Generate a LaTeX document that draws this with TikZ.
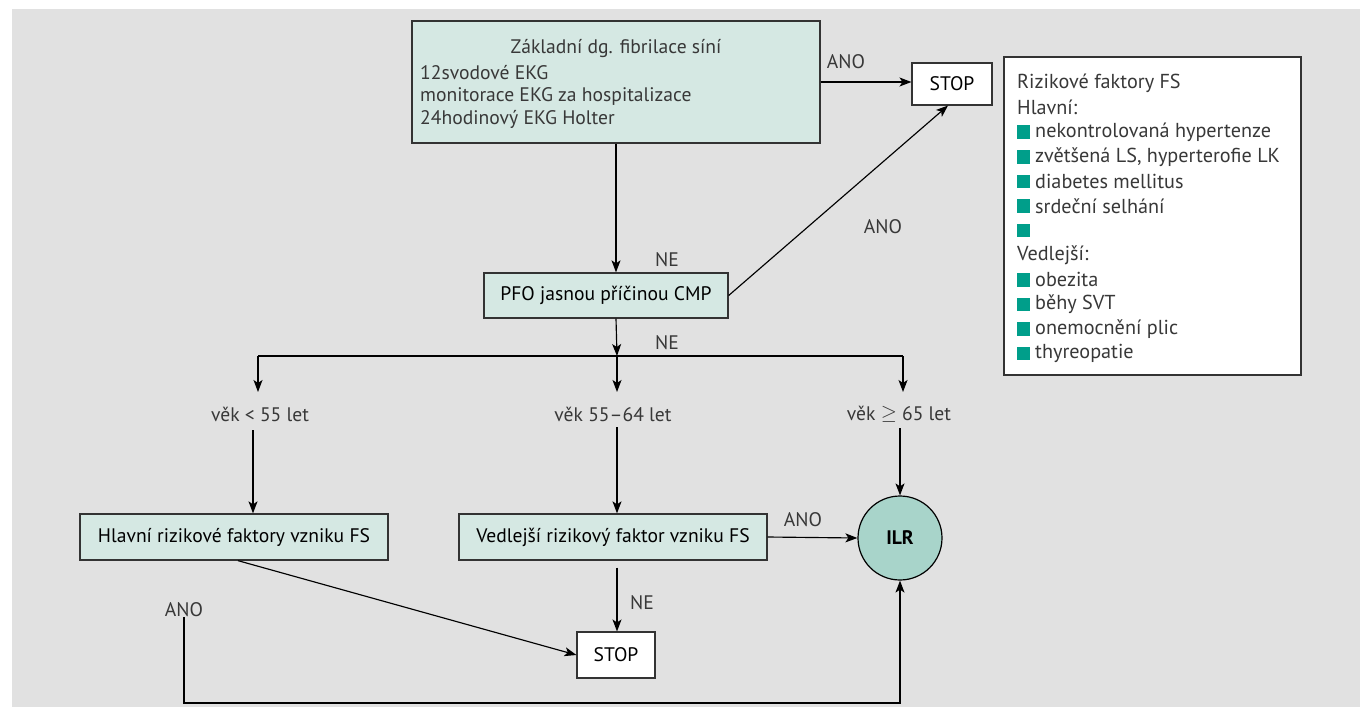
\documentclass[tikz,border=0pt]{standalone}
\usepackage{fontspec}
\setmainfont{PT Sans}
\usetikzlibrary{arrows.meta}
\definecolor{bg}{HTML}{E1E1E1}
\definecolor{boxfill}{HTML}{D5E8E3}
\definecolor{ilrfill}{HTML}{A8D4CA}
\definecolor{sq}{HTML}{009E8A}
\definecolor{txt}{HTML}{383838}
\definecolor{edge}{HTML}{333333}
\tikzset{
  box/.style={draw=edge, line width=1.3pt, fill=boxfill, rectangle, inner sep=0pt},
  stopbox/.style={draw=edge, line width=1.1pt, fill=white, rectangle, inner sep=0pt},
  lbl/.style={inner sep=0pt, text=txt},
  leglbl/.style={inner sep=0pt, text=txt, anchor=west, font=\fontsize{20.2}{23}\selectfont},
  arr/.style={-{Stealth[length=12pt,width=9pt,inset=3pt]}, line width=1.15pt, black},
  conn/.style={line width=1.15pt, black},
  bullet/.style={fill=sq, minimum size=13.5pt, inner sep=0pt, rectangle},
}
\begin{document}
\begin{tikzpicture}[x=1pt,y=-1pt,font=\fontsize{19.6}{23}\selectfont]
\useasboundingbox (0,0) rectangle (1360,707);
\fill[bg] (12,9) rectangle (1360,707);

% top box
\node[box, minimum width=408pt, minimum height=122pt] (top) at (616,82) {};
\node[lbl] (t1) at (616,49) {Základní dg. fibrilace síní};
\node[lbl, anchor=west] (t2) at (420,73) {12svodové EKG};
\node[lbl, anchor=west] (t3) at (420,96) {monitorace EKG za hospitalizace};
\node[lbl, anchor=west] (t4) at (420,119) {24hodinový EKG Holter};

% STOP 1
\node[stopbox, minimum width=80pt, minimum height=42pt] (stop1) at (952,84) {STOP};
\node[lbl] (ano1) at (846,62) {ANO};

% legend
\node[draw=edge, line width=1.3pt, fill=white, minimum width=297pt, minimum height=318pt, inner sep=0pt] (leg) at (1152.5,216) {};
\node[leglbl] (l0) at (1017,83) {Rizikové faktory FS};
\node[leglbl] (l1) at (1017,107.6) {Hlavní:};
\node[bullet] (b2) at (1023.5,132.2) {};
\node[leglbl] (l2) at (1035,132.2) {nekontrolovaná hypertenze};
\node[bullet] (b3) at (1023.5,156.8) {};
\node[leglbl] (l3) at (1035,156.8) {zvětšená LS, hyperterofie LK};
\node[bullet] (b4) at (1023.5,181.4) {};
\node[leglbl] (l4) at (1035,181.4) {diabetes mellitus};
\node[bullet] (b5) at (1023.5,206) {};
\node[leglbl] (l5) at (1035,206) {srdeční selhání};
\node[bullet] (b6) at (1023.5,230.6) {};
\node[leglbl] (l7) at (1017,255.2) {Vedlejší:};
\node[bullet] (b8) at (1023.5,279.8) {};
\node[leglbl] (l8) at (1035,279.8) {obezita};
\node[bullet] (b9) at (1023.5,304.4) {};
\node[leglbl] (l9) at (1035,304.4) {běhy SVT};
\node[bullet] (b10) at (1023.5,329) {};
\node[leglbl] (l10) at (1035,329) {onemocnění plic};
\node[bullet] (b11) at (1023.5,353.6) {};
\node[leglbl] (l11) at (1035,353.6) {thyreopatie};

% PFO
\node[box, minimum width=244pt, minimum height=45pt] (pfo) at (606,295.5) {PFO jasnou příčinou CMP};
\node[lbl] (ne1) at (667,260) {NE};
\node[lbl] (ne2) at (667,343) {NE};
\node[lbl] (ano2) at (883,227) {ANO};

% split line
\coordinate (hl) at (258,356);
\coordinate (split) at (617,356);
\coordinate (hr) at (903,356);

% age labels
\node[lbl] (a1) at (260,414) {věk < 55 let};
\node[lbl] (a2) at (613,414) {věk 55–64 let};
\node[lbl] (a3) at (899,414) {věk \raisebox{0.05em}{$\geq$} 65 let};

% lower boxes
\node[box, minimum width=308pt, minimum height=46pt] (hlavni) at (234,537) {Hlavní rizikové faktory vzniku FS};
\node[box, minimum width=308pt, minimum height=46pt] (ved) at (613,537) {Vedlejší rizikový faktor vzniku FS};
\node[circle, draw=black, line width=1.2pt, fill=ilrfill, minimum size=84pt, inner sep=0pt, font=\fontsize{19.6}{23}\selectfont\bfseries] (ilr) at (900,538) {ILR};
\node[stopbox, minimum width=78pt, minimum height=46pt] (stop2) at (616,655) {STOP};
\node[lbl] (ano3) at (803,520) {ANO};
\node[lbl] (ne3) at (642,603) {NE};
\node[lbl] (ano4) at (184,610) {ANO};
\coordinate (c1) at (253,430);
\coordinate (bot) at (0,703);

% connectors
\draw[arr] (top.east) -- (top.east -| stop1.west);
\draw[arr] (top.south) -- (top.south |- pfo.north);
\draw[arr] (pfo.east) -- ([xshift=-4pt]stop1.south);
\draw[arr] (top.south |- pfo.south) -- (split);
\draw[conn] (hl) -- (hr);
\draw[arr] (hl) -- ++(0,36);
\draw[arr] (split) -- ++(0,36);
\draw[arr] (hr) -- ++(0,36);
\draw[arr] (c1) -- (c1 |- hlavni.north);
\draw[arr, shorten <=6pt] (split |- a2.south) -- (split |- ved.north);
\draw[arr, shorten <=6pt] (a3.south -| ilr.north) -- (ilr.north);
\draw[arr] (ved.east) -- (ilr.west);
\draw[arr, shorten <=7pt] (split |- ved.south) -- (split |- stop2.north);
\draw[arr] ([xshift=4pt]hlavni.south) -- (stop2.west);
\draw[arr] (ano4.south) -- (ano4.south |- bot) -| (ilr.south);
\end{tikzpicture}
\end{document}
